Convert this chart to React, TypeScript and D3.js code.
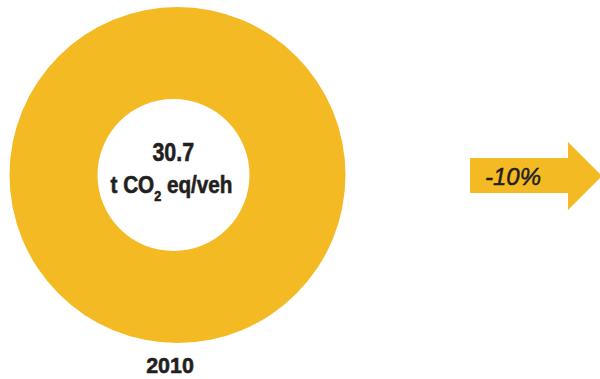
import React from "react";
import * as d3 from "d3";

const values = [30.7];
const yearLabels = ["2010"];
const unitLabel = "t CO";
const changeLabels = ["-10%"];

const W = 600, H = 379;
const COLOR = "#F4BA24";
const TEXT = "#231F20";
const FONT = "'Liberation Sans', Arial, sans-serif";

export default function App() {
  const cx = 177.5, cy = 175;
  const pie = d3.pie<number>().sort(null).value(d => d)(values);
  const arc = d3.arc<d3.PieArcDatum<number>>().innerRadius(0).outerRadius(168);
  const path = d3.path();
  const bx0 = 470, bx1 = 568, by0 = 158, by1 = 193, hy0 = 142, hy1 = 210, tip = 602;
  const ty = (hy0 + hy1) / 2;
  path.moveTo(bx0, by0);
  path.lineTo(bx1, by0);
  path.lineTo(bx1, hy0);
  path.lineTo(tip, ty);
  path.lineTo(bx1, hy1);
  path.lineTo(bx1, by1);
  path.lineTo(bx0, by1);
  path.closePath();
  return (
    <svg width={W} height={H} style={{ position: "absolute", left: 0, top: 0 }}>
      <g transform={`translate(${cx},${cy})`}>
        {pie.map((p, i) => (
          <path key={i} d={arc(p) || ""} fill={COLOR} />
        ))}
      </g>
      <circle cx={173.5} cy={175} r={76} fill="#fff" />
      <g transform="translate(173.3,160.7) scale(0.84,1)">
        <text x={0} y={0} textAnchor="middle" fontFamily={FONT} fontWeight="bold" fontSize={25.5} fill={TEXT} stroke={TEXT} strokeWidth={0.6}>
          {d3.format(".1f")(values[0])}
        </text>
      </g>
      <g transform="translate(171.5,193.3) scale(0.9,1)">
        <text x={0} y={0} textAnchor="middle" fontFamily={FONT} fontWeight="bold" fontSize={23} fill={TEXT} stroke={TEXT} strokeWidth={0.6}>
          {unitLabel}
          <tspan fontSize={14} dy={8}>2</tspan>
          <tspan dy={-8}>{" eq/veh"}</tspan>
        </text>
      </g>
      <g transform="translate(170,372.7) scale(0.94,1)">
        <text x={0} y={0} textAnchor="middle" fontFamily={FONT} fontWeight="bold" fontSize={22.8} fill={TEXT} stroke={TEXT} strokeWidth={0.6}>
          {yearLabels[0]}
        </text>
      </g>
      <path d={path.toString()} fill={COLOR} />
      <text x={485} y={185} fontFamily={FONT} fontStyle="italic" fontSize={24} fill={TEXT} stroke={TEXT} strokeWidth={0.5}>
        {changeLabels[0]}
      </text>
    </svg>
  );
}
